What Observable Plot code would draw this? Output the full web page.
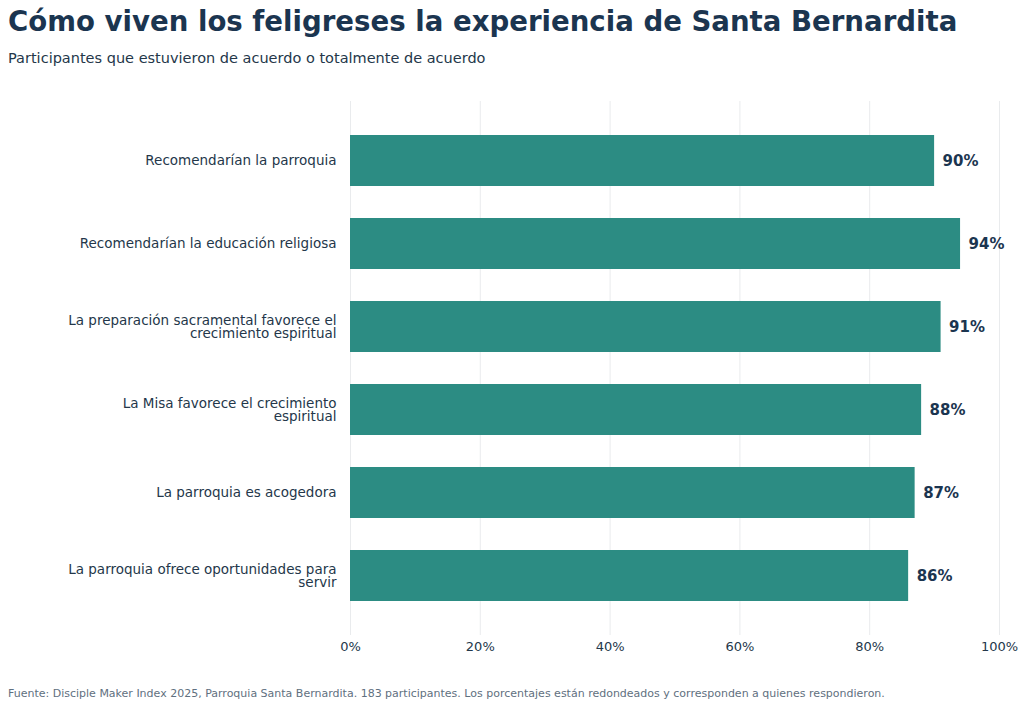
<!DOCTYPE html>
<html><head><meta charset="utf-8">
<script src="https://cdn.jsdelivr.net/npm/d3@7"></script>
<script src="https://cdn.jsdelivr.net/npm/@observablehq/plot@0.6"></script>
<style>
body{margin:0;background:#fff;font-family:"DejaVu Sans",sans-serif;width:1024px;height:707px;overflow:hidden;position:relative}
h1{position:absolute;left:8px;top:5px;margin:0;font-size:27.6px;font-weight:bold;color:#1b3550}
.sub{position:absolute;left:8px;top:50px;font-size:14.5px;color:#24374a}
#chart{position:absolute;left:0;top:90px}
.foot{position:absolute;left:8px;top:687px;font-size:11px;color:#5f7080}
</style></head><body>
<h1>Cómo viven los feligreses la experiencia de Santa Bernardita</h1>
<div class="sub">Participantes que estuvieron de acuerdo o totalmente de acuerdo</div>
<div id="chart"></div>
<div class="foot">Fuente: Disciple Maker Index 2025, Parroquia Santa Bernardita. 183 participantes. Los porcentajes están redondeados y corresponden a quienes respondieron.</div>
<script>
const categories=["Recomendarían la parroquia","Recomendarían la educación religiosa","La preparación sacramental favorece el\ncrecimiento espiritual","La Misa favorece el crecimiento\nespiritual","La parroquia es acogedora","La parroquia ofrece oportunidades para\nservir"];
const values=[90,94,91,88,87,86];
const xTicks=[0,20,40,60,80,100];
const data=categories.map((c,i)=>({c,v:values[i]}));
const p=Plot.plot({
  width:1024,height:580,marginLeft:350,marginRight:25,marginTop:11,marginBottom:35,
  style:{fontFamily:"DejaVu Sans, sans-serif",color:"#24374a"},
  x:{domain:[0,100],ticks:xTicks,tickFormat:d=>d+"%",grid:true,label:null},
  y:{domain:categories,padding:0.39,label:null},
  marks:[
    Plot.axisX({ticks:xTicks,tickFormat:d=>d+"%",tickSize:0,tickPadding:6,fontSize:13,label:null}),
    Plot.axisY({tickSize:0,tickPadding:14,fontSize:13.5,label:null,lineHeight:1.0}),
    Plot.barX(data,{x:"v",y:"c",fill:"#2c8c83"}),
    Plot.text(data,{x:"v",y:"c",text:d=>d.v+"%",dx:8,textAnchor:"start",fontWeight:"bold",fontSize:15,fill:"#1b3550"})
  ]
});
document.getElementById("chart").append(p);
</script></body></html>
